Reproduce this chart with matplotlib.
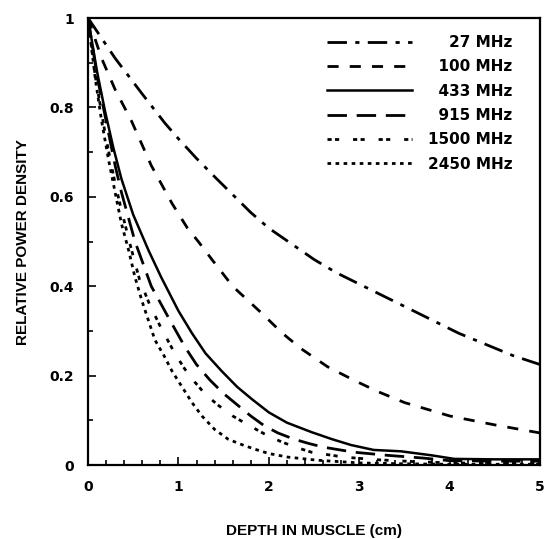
import numpy as np
import matplotlib
matplotlib.use("Agg")
import matplotlib.pyplot as plt
from matplotlib.ticker import MultipleLocator, FormatStrFormatter

plt.rcParams['font.family'] = ['DejaVu Sans']
plt.rcParams['font.weight'] = 'bold'

# depth (cm) / relative power density
x_27 = [0, 0.15, 0.3, 0.45, 0.6, 0.85, 1.0, 1.2, 1.4, 1.6, 1.8, 2.0, 2.25, 2.5, 2.75, 2.95,
        3.25, 3.5, 3.8, 4.1, 4.4, 4.7, 5.0]
y_27 = [1, 0.955, 0.91, 0.87, 0.83, 0.765, 0.73, 0.686, 0.645, 0.605, 0.565, 0.53, 0.495, 0.46,
        0.43, 0.41, 0.38, 0.355, 0.325, 0.295, 0.27, 0.245, 0.225]

x_100 = [0, 0.15, 0.3, 0.48, 0.7, 0.93, 1.1, 1.22, 1.37, 1.6, 1.92, 2.15, 2.36, 2.65, 2.94,
         3.2, 3.5, 3.75, 4.0, 4.5, 5.0]
y_100 = [1, 0.91, 0.84, 0.77, 0.67, 0.585, 0.53, 0.50, 0.46, 0.40, 0.34, 0.295, 0.26, 0.22, 0.19,
         0.165, 0.14, 0.125, 0.11, 0.09, 0.072]

x_433 = [0, 0.05, 0.1, 0.19, 0.28, 0.37, 0.5, 0.67, 0.81, 1.0, 1.15, 1.3, 1.48, 1.65, 1.81, 2.0,
         2.2, 2.47, 2.7, 2.91, 3.16, 3.46, 3.8, 4.05, 4.5, 5.0]
y_433 = [1, 0.94, 0.88, 0.79, 0.71, 0.64, 0.56, 0.48, 0.42, 0.345, 0.295, 0.25, 0.21, 0.175,
         0.148, 0.118, 0.095, 0.074, 0.058, 0.045, 0.034, 0.031, 0.022, 0.014, 0.013, 0.013]

x_915 = [0, 0.1, 0.2, 0.3, 0.37, 0.52, 0.70, 0.89, 1.07, 1.2, 1.35, 1.5, 1.62, 1.8, 1.95, 2.1,
         2.28, 2.45, 2.61, 2.94, 3.31, 3.7, 4.0, 4.5, 5.0]
y_915 = [1, 0.87, 0.77, 0.67, 0.61, 0.50, 0.40, 0.33, 0.265, 0.225, 0.19, 0.16, 0.14, 0.11, 0.088,
         0.072, 0.058, 0.048, 0.04, 0.029, 0.022, 0.016, 0.01, 0.009, 0.009]

x_1500 = [0, 0.08, 0.2, 0.3, 0.37, 0.47, 0.57, 0.68, 0.8, 0.96, 1.07, 1.18, 1.3, 1.44, 1.6, 1.77,
          1.95, 2.14, 2.3, 2.47, 2.83, 3.2, 3.6, 4.0, 4.5, 5.0]
y_1500 = [1, 0.87, 0.73, 0.63, 0.57, 0.49, 0.415, 0.36, 0.31, 0.25, 0.215, 0.186, 0.158, 0.134,
          0.11, 0.09, 0.07, 0.052, 0.04, 0.029, 0.018, 0.012, 0.008, 0.005, 0.004, 0.004]

x_2450 = [0, 0.08, 0.15, 0.23, 0.3, 0.37, 0.45, 0.52, 0.6, 0.74, 0.84, 0.93, 1.04, 1.15, 1.26,
          1.4, 1.55, 1.7, 1.84, 2.0, 2.21, 2.54, 3.0, 3.5, 4.0, 5.0]
y_2450 = [1, 0.865, 0.77, 0.68, 0.61, 0.54, 0.48, 0.42, 0.365, 0.28, 0.245, 0.21, 0.175, 0.14,
          0.11, 0.08, 0.058, 0.046, 0.036, 0.026, 0.018, 0.011, 0.005, 0.003, 0.002, 0.002]

# leading spaces roughly right-align the labels (2 spaces ~ 1 digit)
labels = ["    27 MHz", "  100 MHz", "  433 MHz", "  915 MHz", "1500 MHz", "2450 MHz"]

fig = plt.figure(figsize=(5.48, 5.39), dpi=100)
ax = fig.add_axes([0.1606, 0.137, 0.825, 0.8296])

ax.plot(x_27, y_27, color='black', lw=2, dashes=(7, 3, 1.5, 3), label=labels[0])
ax.plot(x_100, y_100, color='black', lw=2, dashes=(4, 4), label=labels[1])
ax.plot(x_433, y_433, color='black', lw=1.8, label=labels[2])
ax.plot(x_915, y_915, color='black', lw=2, dashes=(7, 3.5), label=labels[3])
ax.plot(x_1500, y_1500, color='black', lw=2, dashes=(1.5, 1.2, 1.5, 5), label=labels[4])
ax.plot(x_2450, y_2450, color='black', lw=2, dashes=(1.3, 1.6), label=labels[5])

ax.set_xlim(0, 5)
ax.set_ylim(0, 1)
ax.xaxis.set_major_locator(MultipleLocator(1))
ax.xaxis.set_minor_locator(MultipleLocator(0.2))
ax.yaxis.set_major_locator(MultipleLocator(0.2))
ax.yaxis.set_minor_locator(MultipleLocator(0.1))
ax.yaxis.set_major_formatter(FormatStrFormatter('%g'))
ax.tick_params(which='both', direction='in', width=1.2, labelsize=10)
ax.tick_params(axis='x', which='major', length=6, pad=11)
ax.tick_params(axis='y', which='major', length=6, pad=10)
ax.tick_params(which='minor', length=3.5)
for sp in ax.spines.values():
    sp.set_linewidth(1.6)

ax.set_xlabel('DEPTH IN MUSCLE (cm)', fontsize=11, fontweight='bold',
              family='Liberation Sans', labelpad=21)
ax.set_ylabel('RELATIVE POWER DENSITY', fontsize=11, fontweight='bold',
              family='Liberation Sans', labelpad=14)

ax.legend(loc='upper right', bbox_to_anchor=(0.94, 0.962), frameon=False,
          borderpad=0, borderaxespad=0,
          handlelength=5.6, handletextpad=1.05, labelspacing=0.61,
          prop={'weight': 'bold', 'size': 11})

fig.savefig('out.png', dpi=100)
